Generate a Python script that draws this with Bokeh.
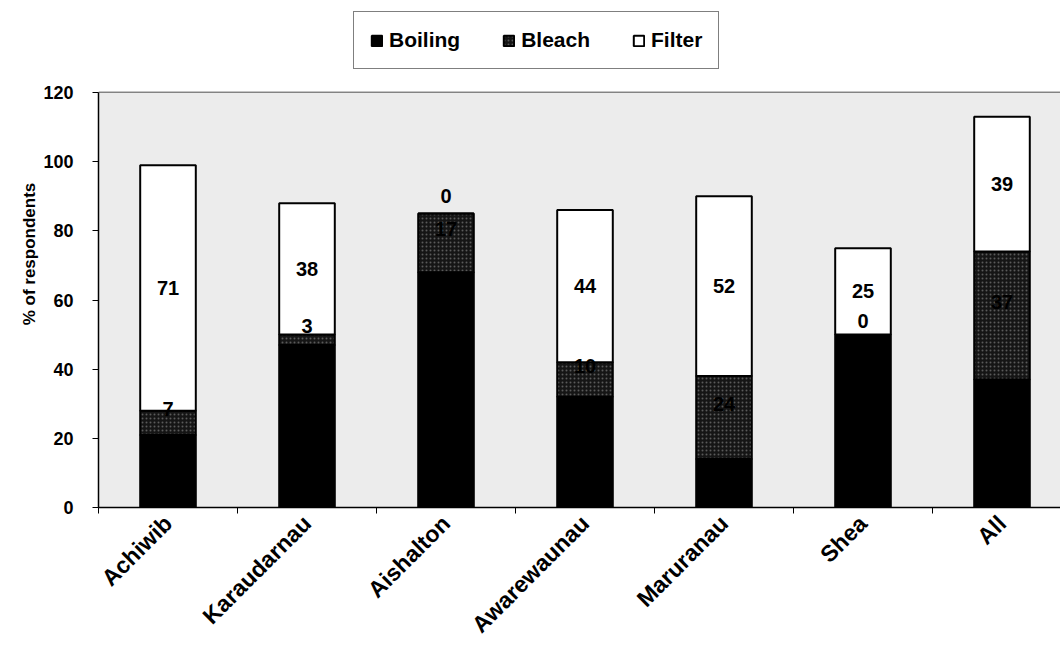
import math
from bokeh.plotting import figure
from bokeh.models import (ColumnDataSource, Range1d, FixedTicker, Legend, LegendItem, Title,
                          BoxAnnotation)
from bokeh.core.properties import value
from bokeh.embed import file_html
from bokeh.resources import INLINE

categories = ["Achiwib", "Karaudarnau", "Aishalton", "Awarewaunau", "Maruranau", "Shea", "All"]
boiling = [21, 47, 68, 32, 14, 50, 37]
bleach = [7, 3, 17, 10, 24, 0, 37]
filter_ = [71, 38, 0, 44, 52, 25, 39]
series_names = ["Boiling", "Bleach", "Filter"]
y_ticks = [0, 20, 40, 60, 80, 100, 120]

FONT = "Liberation Sans"

n = len(categories)
x = [i + 0.5 for i in range(n)]
b0 = [0] * n
b1 = boiling
b2 = [a + b for a, b in zip(boiling, bleach)]
b3 = [a + b for a, b in zip(b2, filter_)]
src = ColumnDataSource(dict(
    x=x, b0=b0, b1=b1, b2=b2, b3=b3,
    bleach=[str(v) for v in bleach], filt=[str(v) for v in filter_],
    bleach_y=[a + v / 2 + 4 for a, v in zip(boiling, bleach)],
    filt_y=[a + v / 2 + (5 if v == 0 else 0) for a, v in zip(b2, filter_)],
))

y_max = y_ticks[-1]
frame_h = 507          # frame extends up to the legend area
axis_h = 415           # pixels between 0 and 120
frame_w = 962
cat_w = 139
p = figure(frame_width=frame_w, frame_height=frame_h, output_backend="svg", toolbar_location=None,
           x_range=Range1d(0, frame_w / cat_w), y_range=Range1d(0, y_max * frame_h / axis_h),
           min_border_left=98, min_border_top=0, min_border_right=0, min_border_bottom=100)
p.background_fill_color = "white"
p.border_fill_color = "white"
p.outline_line_color = None

p.add_layout(BoxAnnotation(bottom=0, top=y_max, fill_color="#ececec", fill_alpha=1,
                           line_color=None, level="underlay"))

r_boil = p.vbar(x="x", bottom="b0", top="b1", width=0.4, source=src,
                fill_color="black", line_color="black", line_width=2)
r_bleach = p.vbar(x="x", bottom="b1", top="b2", width=0.4, source=src,
                  fill_color="#151515", line_color="black", line_width=2,
                  hatch_pattern="dot", hatch_color="#5a5a5a", hatch_scale=4, hatch_weight=1)
r_filt = p.vbar(x="x", bottom="b2", top="b3", width=0.4, source=src,
                fill_color="white", line_color="black", line_width=2)

p.text(x="x", y="bleach_y", text="bleach", source=src, text_align="center",
       text_baseline="middle", text_font=value(FONT), text_font_style="bold",
       text_font_size="20px", text_color="black")
p.text(x="x", y="filt_y", text="filt", source=src, text_align="center",
       text_baseline="middle", text_font=value(FONT), text_font_style="bold",
       text_font_size="20px", text_color="black")

# axes
p.yaxis.ticker = FixedTicker(ticks=y_ticks)
p.yaxis.bounds = (0, y_max)
p.yaxis.major_label_text_font = FONT
p.yaxis.major_label_text_font_style = "bold"
p.yaxis.major_label_text_font_size = "18px"
p.yaxis.major_label_text_color = "black"
p.yaxis.major_label_standoff = 19
p.yaxis.major_tick_out = 6
p.yaxis.major_tick_in = 0
p.yaxis.minor_tick_line_color = None
p.yaxis.axis_line_width = 1.5
p.yaxis.axis_line_color = "black"
p.yaxis.major_tick_line_color = "black"

p.xaxis.ticker = FixedTicker(ticks=x, minor_ticks=[i for i in range(n + 1)])
p.xaxis.major_label_overrides = {xi: c for xi, c in zip(x, categories)}
p.xaxis.major_label_orientation = math.pi / 4
p.xaxis.major_label_text_font = FONT
p.xaxis.major_label_text_font_style = "bold"
p.xaxis.major_label_text_font_size = "23px"
p.xaxis.major_label_text_color = "black"
p.xaxis.major_label_standoff = 6
p.xaxis.major_tick_line_color = None
p.xaxis.minor_tick_line_color = "black"
p.xaxis.minor_tick_out = 6
p.xaxis.minor_tick_in = 0
p.xaxis.axis_line_width = 1.5
p.xaxis.axis_line_color = "black"

p.xgrid.grid_line_color = None
p.ygrid.grid_line_color = "#1a1a1a"
p.ygrid.grid_line_width = 1.5

p.add_layout(Title(text="% of respondents", align="center", offset=10,
                   text_font=FONT, text_font_style="bold", text_font_size="17px",
                   text_color="black", standoff=4), "left")

legend = Legend(items=[LegendItem(label=series_names[0], renderers=[r_boil]),
                       LegendItem(label=series_names[1], renderers=[r_bleach]),
                       LegendItem(label=series_names[2], renderers=[r_filt])],
                location=(255, 438), orientation="horizontal")
legend.label_text_font = FONT
legend.label_text_font_style = "bold"
legend.label_text_font_size = "21px"
legend.label_text_color = "black"
legend.glyph_width = 13
legend.glyph_height = 13
legend.padding = 16
legend.spacing = 42
legend.label_standoff = 6
legend.border_line_color = "black"
legend.border_line_width = 1
legend.background_fill_color = "white"
legend.background_fill_alpha = 1
legend.margin = 0
p.add_layout(legend, "center")

open("out.html", "w").write(file_html(p, INLINE))
